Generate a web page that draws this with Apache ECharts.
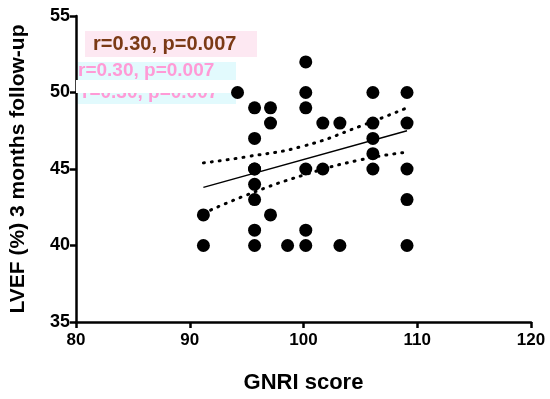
<!DOCTYPE html>
<html>
<head>
<meta charset="utf-8">
<script src="https://cdn.jsdelivr.net/npm/echarts@6/dist/echarts.min.js"></script>
<style>
  html, body { margin: 0; padding: 0; background: #fff; }
  #chart { width: 550px; height: 399px; }
</style>
</head>
<body>
<div id="chart"></div>
<script>
// GNRI score vs LVEF at 3 months
var gnri = [91.2, 91.2, 94.2, 95.7, 95.7, 95.7, 95.7, 95.7, 95.7, 95.7, 95.7,
            97.1, 97.1, 97.1, 98.6, 100.2, 100.2, 100.2, 100.2, 100.2, 100.2,
            101.7, 101.7, 103.2, 103.2, 106.1, 106.1, 106.1, 106.1, 106.1,
            109.1, 109.1, 109.1, 109.1, 109.1];
var lvef = [42, 40, 50, 49, 47, 45, 44, 43, 41, 40, 45,
            49, 48, 42, 40, 52, 50, 49, 45, 41, 40,
            48, 45, 48, 40, 50, 48, 47, 46, 45,
            50, 48, 45, 43, 40];

var fitX = [91.2, 109.1];
var fitY = [43.8, 47.5];
var ciX = [91.2, 95, 100, 105, 109.1];
var ciUpper = [45.4, 45.8, 46.5, 47.8, 49.0];
var ciLower = [42.1, 43.3, 44.6, 45.6, 46.1];

var xTicks = [80, 90, 100, 110, 120];
var yTicks = [35, 40, 45, 50, 55];

function pairs(xs, ys) { return xs.map(function (x, i) { return [x, ys[i]]; }); }

var chart = echarts.init(document.getElementById('chart'));
var font = 'Liberation Sans, Arial, sans-serif';
chart.setOption({
  animation: false,
  grid: { left: 73, right: 19, top: 16, bottom: 77 },
  xAxis: {
    type: 'value', min: xTicks[0], max: xTicks[xTicks.length - 1], interval: 10,
    name: 'GNRI score', nameLocation: 'middle', nameGap: 50,
    nameTextStyle: { fontFamily: font, fontWeight: 'bold', fontSize: 22, color: '#000' },
    axisLine: { lineStyle: { color: '#000', width: 2.5 } },
    axisTick: { length: 6, lineStyle: { color: '#000', width: 2.5 } },
    axisLabel: { fontFamily: font, fontWeight: 'bold', fontSize: 17, color: '#000', margin: 10 },
    splitLine: { show: false }
  },
  yAxis: {
    type: 'value', min: yTicks[0], max: yTicks[yTicks.length - 1], interval: 5,
    name: 'LVEF (%) 3 months follow-up', nameLocation: 'middle', nameGap: 47,
    nameTextStyle: { fontFamily: font, fontWeight: 'bold', fontSize: 21, color: '#000' },
    axisLine: { lineStyle: { color: '#000', width: 2.5 } },
    axisTick: { length: 6, lineStyle: { color: '#000', width: 2.5 } },
    axisLabel: { fontFamily: font, fontWeight: 'bold', fontSize: 18, color: '#000', margin: 6 },
    splitLine: { show: false }
  },
  series: [
    {
      type: 'line', data: pairs(ciX, ciUpper), smooth: true, symbol: 'none',
      lineStyle: { color: '#000', width: 3, type: [1, 7], cap: 'round' }
    },
    {
      type: 'line', data: pairs(ciX, ciLower), smooth: true, symbol: 'none',
      lineStyle: { color: '#000', width: 3, type: [1, 7], cap: 'round' }
    },
    {
      type: 'line', data: pairs(fitX, fitY), symbol: 'none',
      lineStyle: { color: '#000', width: 1.5 }
    },
    {
      type: 'scatter', data: pairs(gnri, lvef), symbolSize: 13,
      itemStyle: { color: '#000', opacity: 1 }, z: 5
    }
  ],
  graphic: [
    { type: 'rect', shape: { x: 85, y: 31, width: 172, height: 26 }, style: { fill: '#fde8f2' }, z: 1 },
    { type: 'text', x: 93, y: 44, style: { text: 'r=0.30, p=0.007', fontFamily: font, fontWeight: 'bold', fontSize: 20, fill: '#7b3a16', verticalAlign: 'middle' }, z: 2 },
    { type: 'rect', shape: { x: 78, y: 62, width: 158, height: 42 }, style: { fill: '#e2fafd' }, z: 1 },
    { type: 'text', x: 78, y: 71, style: { text: 'r=0.30, p=0.007', fontFamily: font, fontWeight: 'bold', fontSize: 19, fill: '#ff9ad6', verticalAlign: 'middle' }, z: 2 },
    { type: 'text', x: 82, y: 93, style: { text: 'r=0.30, p=0.007', fontFamily: font, fontWeight: 'bold', fontSize: 19, fill: '#ff9ad6', verticalAlign: 'middle' }, z: 2 },
    { type: 'rect', shape: { x: 76, y: 80, width: 164, height: 13 }, style: { fill: '#fff' }, z: 3 }
  ]
});
</script>
</body>
</html>
